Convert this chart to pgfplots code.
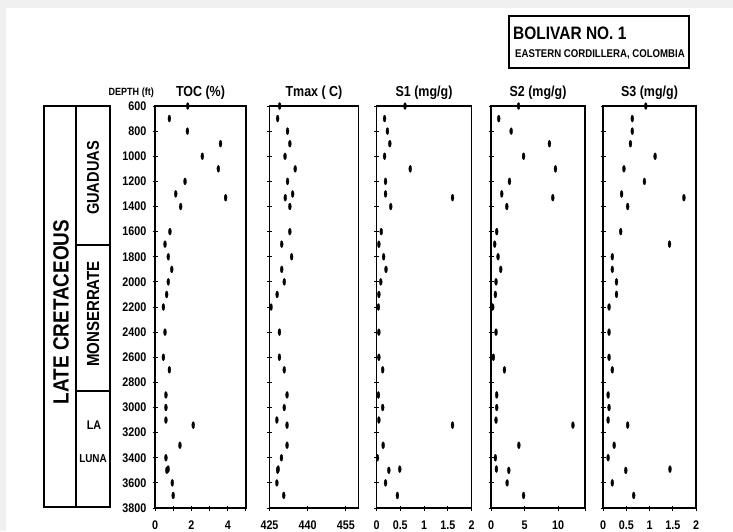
\documentclass[border=0pt]{standalone}
\usepackage{fontspec}
\setmainfont{Liberation Sans}
\newfontfamily\hf{Liberation Sans}[FakeStretch=0.86]
\usepackage{pgfplots}
\pgfplotsset{compat=1.18}
\usepackage{pgfplotstable}
\pgfplotstableread{
depth toc tmax s1 s2 s3
600 1.80 429.0 0.60 4.10 0.92
700 0.79 428.2 0.17 1.15 0.63
800 1.78 432.1 0.23 3.00 0.63
900 3.60 433.0 0.28 8.70 0.59
1000 2.60 431.1 0.17 4.85 1.12
1100 3.48 435.1 0.71 9.60 0.45
1200 1.65 432.1 0.19 2.75 0.89
1300 1.14 434.1 0.19 1.60 0.40
1330 3.88 431.2 1.60 9.20 1.74
1400 1.41 433.0 0.30 2.35 0.53
1600 0.82 433.0 0.10 0.85 0.38
1700 0.55 429.8 0.05 0.55 1.43
1800 0.73 433.7 0.15 1.05 0.20
1900 0.92 429.8 0.20 1.45 0.20
2000 0.73 430.8 0.09 0.75 0.29
2100 0.64 428.0 0.05 0.65 0.29
2200 0.46 425.6 0.04 0.25 0.13
2400 0.55 428.9 0.05 0.75 0.13
2600 0.46 428.9 0.05 0.35 0.13
2700 0.79 430.8 0.13 2.00 0.20
2900 0.60 431.9 0.04 0.85 0.11
3000 0.60 430.8 0.13 0.85 0.13
3100 0.60 427.9 0.05 0.75 0.11
3140 2.10 431.9 1.60 12.2 0.53
3300 1.37 431.9 0.14 4.15 0.24
3400 0.60 429.7 0.02 0.65 0.11
3490 0.72 428.4 0.49 0.80 1.44
3500 0.65 428.2 0.26 2.65 0.49
3600 0.95 427.9 0.19 2.40 0.20
3700 1.00 430.6 0.44 4.85 0.66
}\data
\pgfplotsset{
  panel/.style={
    scale only axis, height=402pt,
    y dir=reverse, ymin=600, ymax=3800,
    ytick={600,800,...,3800}, yticklabels={},
    ytick pos=left, xtick pos=bottom,
    tick align=center, major tick length=5pt,
    tick style={black, line width=1pt},
    axis line style={black, line width=1.4pt},
    clip=false, anchor=north west,
    /pgf/number format/assume math mode=true,
    tick label style={font=\hf\bfseries\fontsize{12.5}{13}\selectfont, inner sep=0pt},
    xticklabel style={yshift=-10pt},
  },
  dots/.style={only marks, mark=*, mark size=3.5pt,
    mark options={xscale=0.42, fill=black, draw=black, line width=0.3pt}},
}
\newcommand{\ttl}[1]{\node[anchor=base, font=\hf\bfseries\fontsize{14.5}{15}\selectfont] at (axis description cs:0.5,1) [yshift=10pt] {#1};}
\begin{document}
\begin{tikzpicture}
\path[use as bounding box] (0,0) rectangle (733pt,-531pt);
\fill[black!6] (0,0) rectangle (733pt,-531pt);
\fill[white] (6pt,-8pt) rectangle (733pt,-531pt);

% title box
\draw[line width=1.3pt] (509pt,-16pt) rectangle (689pt,-68pt);
\node[anchor=base west, inner sep=0pt, font=\hf\bfseries\fontsize{18}{18}\selectfont] at (513pt,-39.5pt) {BOLIVAR NO. 1};
\node[anchor=base west, inner sep=0pt, font=\hf\bfseries\fontsize{11.2}{12}\selectfont] at (515pt,-57.5pt) {EASTERN CORDILLERA, COLOMBIA};

% stratigraphic column
\draw[line width=1.4pt] (44pt,-106pt) rectangle (110pt,-507pt);
\draw[line width=1.4pt] (76pt,-106pt) -- (76pt,-507pt);
\draw[line width=1.4pt] (76pt,-245pt) -- (110pt,-245pt);
\draw[line width=1.4pt] (76pt,-391pt) -- (110pt,-391pt);
\node[rotate=90, font=\hf\bfseries\fontsize{22}{22}\selectfont] at (61pt,-312pt) {LATE CRETACEOUS};
\node[rotate=90, font=\hf\bfseries\fontsize{17}{18}\selectfont] at (93pt,-178pt) {GUADUAS};
\node[rotate=90, font=\hf\bfseries\fontsize{17.5}{18}\selectfont] at (93pt,-314pt) {MONSERRATE};
\node[font=\hf\bfseries\fontsize{12.5}{13}\selectfont] at (94pt,-425pt) {LA};
\node[font=\hf\bfseries\fontsize{11.5}{12}\selectfont] at (93pt,-459pt) {LUNA};

\node[anchor=base east, inner sep=0pt, font=\hf\bfseries\fontsize{10.5}{11}\selectfont] at (154pt,-95pt) {DEPTH (ft)};

% TOC
\begin{axis}[panel, at={(155pt,-106pt)}, width=91pt, xmin=0, xmax=5,
  xtick={0,1,2,3,4,5}, xticklabels={0,,2,,4,},
  yticklabels={600,800,1000,1200,1400,1600,1800,2000,2200,2400,2600,2800,3000,3200,3400,3600,3800},
  yticklabel style={xshift=-6pt}]
\addplot[dots] table[x=toc, y=depth] {\data};
\ttl{TOC (\%)}
\end{axis}

% Tmax
\begin{axis}[panel, at={(269.5pt,-106pt)}, width=89pt, xmin=425, xmax=460,
  xtick={425,440,455}]
\addplot[dots] table[x=tmax, y=depth] {\data};
\ttl{Tmax ( C)}
\end{axis}

% S1
\begin{axis}[panel, at={(376.5pt,-106pt)}, width=95pt, xmin=0, xmax=2,
  xtick={0,0.5,1,1.5,2}, xticklabels={0,0.5,1,1.5,2}]
\addplot[dots] table[x=s1, y=depth] {\data};
\ttl{S1 (mg/g)}
\end{axis}

% S2
\begin{axis}[panel, at={(491pt,-106pt)}, width=94pt, xmin=0, xmax=14,
  xtick={0,5,10,14}, xticklabels={0,5,10,}]
\addplot[dots] table[x=s2, y=depth] {\data};
\ttl{S2 (mg/g)}
\end{axis}

% S3
\begin{axis}[panel, at={(603pt,-106pt)}, width=93pt, xmin=0, xmax=2,
  xtick={0,0.5,1,1.5,2}, xticklabels={0,0.5,1,1.5,2}]
\addplot[dots] table[x=s3, y=depth] {\data};
\ttl{S3 (mg/g)}
\end{axis}
\end{tikzpicture}
\end{document}
